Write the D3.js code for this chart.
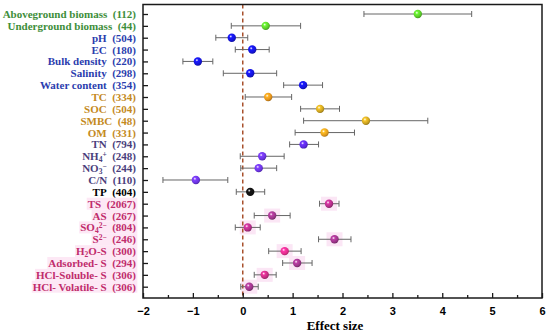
<!DOCTYPE html>
<meta charset="utf-8">
<head>
<title>Effect size forest plot</title>
<script src="https://cdnjs.cloudflare.com/ajax/libs/d3/7.8.5/d3.min.js" charset="utf-8"></script>
<style type="text/css">
body {margin: 0; background: #fff;}
.lab {font-family: "Liberation Serif", "Times New Roman", serif; font-weight: bold; font-size: 11px;}
.tick text {font-family: "Liberation Sans", Arial, sans-serif; font-weight: bold; font-size: 11px;}
</style>
</head>
<body>
<script>
// Data: labels, sample sizes, effect size with 95% CI
var names  = ["Aboveground biomass", "Underground biomass", "pH", "EC", "Bulk density", "Salinity", "Water content",
              "TC", "SOC", "SMBC", "OM", "TN", "NH4+", "NO3-", "C/N", "TP",
              "TS", "AS", "SO42-", "S2-", "H2O-S", "Adsorbed- S", "HCl-Soluble- S", "HCl- Volatile- S"];
var counts = [112, 44, 504, 180, 220, 298, 354, 334, 504, 48, 331, 794, 248, 244, 110, 404,
              2067, 267, 804, 246, 300, 294, 306, 306];
var groups = ["plant", "plant", "phys", "phys", "phys", "phys", "phys",
              "carb", "carb", "carb", "carb", "nitr", "nitr", "nitr", "nitr", "phos",
              "sulf", "sulf", "sulf", "sulf", "sulf", "sulf", "sulf", "sulf"];
var mean   = [3.51, 0.46, -0.22, 0.19, -0.90, 0.15, 1.21, 0.51, 1.55, 2.47, 1.64, 1.22, 0.39, 0.32, -0.94, 0.15,
              1.73, 0.59, 0.10, 1.84, 0.84, 1.09, 0.44, 0.13];
var lower  = [2.43, -0.23, -0.54, -0.15, -1.20, -0.39, 0.82, 0.05, 1.16, 1.22, 1.05, 0.94, -0.05, -0.04, -1.60, -0.13,
              1.54, 0.23, -0.15, 1.52, 0.52, 0.80, 0.23, -0.04];
var upper  = [4.59, 1.16, 0.10, 0.53, -0.60, 0.68, 1.60, 0.98, 1.94, 3.71, 2.24, 1.52, 0.83, 0.68, -0.30, 0.44,
              1.93, 0.95, 0.35, 2.17, 1.17, 1.39, 0.67, 0.31];
var dotColors = ["#58c828", "#58c828", "#1414d8", "#1414d8", "#1414d8", "#1414d8", "#1414d8",
                 "#e0901c", "#c8a020", "#c8a020", "#e09a1c", "#5a28e0", "#6a34e0", "#6a34e0", "#6a34e0", "#111111",
                 "#b02c86", "#9a3488", "#b02c86", "#9a3488", "#e02c8a", "#9a3488", "#c02c80", "#9a3488"];
var xTicks = [-2, -1, 0, 1, 2, 3, 4, 5, 6];

var labelColor = {plant: "#3e8e3a", phys: "#2b3dae", carb: "#c48a1e", nitr: "#4a3e7c", phos: "#000", sulf: "#c02c6c"};

var width = 550, height = 334;
var margin = {top: 4.5, right: 8, bottom: 36, left: 143};

var svg = d3.select("body").append("svg")
  .attr("width", width)
  .attr("height", height);

var x = d3.scaleLinear().domain([-2, 6]).range([margin.left, width - margin.right]);
var y = d3.scalePoint().domain(d3.range(names.length)).range([14, 286.7]);

// gradients for the spheres
var defs = svg.append("defs");
dotColors.forEach(function(c, i) {
  var g = defs.append("radialGradient").attr("id", "g" + i)
    .attr("cx", "0.38").attr("cy", "0.35").attr("r", "0.7");
  g.append("stop").attr("offset", "0%").attr("stop-color", "#fff");
  g.append("stop").attr("offset", "25%").attr("stop-color", d3.color(c).brighter(0.6));
  g.append("stop").attr("offset", "70%").attr("stop-color", c);
  g.append("stop").attr("offset", "100%").attr("stop-color", d3.color(c).darker(1));
});

// light halos behind the sulphur dots
svg.append("g").selectAll("rect")
  .data(d3.range(names.length).filter(function(i) { return groups[i] == "sulf"; }))
  .enter().append("rect")
  .attr("x", function(i) { return x(mean[i]) - 8; })
  .attr("y", function(i) { return y(i) - 7; })
  .attr("width", 16).attr("height", 14)
  .style("fill", "#fbe6f5");

// zero line
svg.append("line")
  .attr("x1", x(0)).attr("x2", x(0))
  .attr("y1", margin.top).attr("y2", height - margin.bottom)
  .style("stroke", "#a8502c").style("stroke-width", 1.5)
  .style("stroke-dasharray", "4,3");

// error bars
var bars = svg.append("g").selectAll("g")
  .data(d3.range(names.length))
  .enter().append("g")
  .style("stroke", "#666").style("stroke-width", 1);
bars.append("line")
  .attr("x1", function(i) { return x(lower[i]); })
  .attr("x2", function(i) { return x(upper[i]); })
  .attr("y1", function(i) { return y(i); })
  .attr("y2", function(i) { return y(i); });
bars.append("line")
  .attr("x1", function(i) { return x(lower[i]); })
  .attr("x2", function(i) { return x(lower[i]); })
  .attr("y1", function(i) { return y(i) - 3; })
  .attr("y2", function(i) { return y(i) + 3; });
bars.append("line")
  .attr("x1", function(i) { return x(upper[i]); })
  .attr("x2", function(i) { return x(upper[i]); })
  .attr("y1", function(i) { return y(i) - 3; })
  .attr("y2", function(i) { return y(i) + 3; });

// points
svg.append("g").selectAll("circle")
  .data(d3.range(names.length))
  .enter().append("circle")
  .attr("cx", function(i) { return x(mean[i]); })
  .attr("cy", function(i) { return y(i); })
  .attr("r", 4.2)
  .style("fill", function(i) { return "url(#g" + i + ")"; });

// frame
svg.append("rect")
  .attr("x", margin.left).attr("y", margin.top)
  .attr("width", width - margin.right - margin.left)
  .attr("height", height - margin.bottom - margin.top)
  .style("fill", "none").style("stroke", "#1a1a1a").style("stroke-width", 1.5);

// bottom axis
var xAxis = svg.append("g")
  .attr("transform", "translate(0," + (height - margin.bottom) + ")")
  .call(d3.axisBottom(x).tickValues(xTicks).tickSize(-5).tickPadding(9)
    .tickFormat(function(d) { return d < 0 ? "\u2212" + (-d) : d; }));
xAxis.select(".domain").remove();
xAxis.selectAll(".tick line").style("stroke", "#1a1a1a").style("stroke-width", 1.3);
xAxis.selectAll(".tick text").style("fill", "#000");

var minor = svg.append("g")
  .attr("transform", "translate(0," + (height - margin.bottom) + ")")
  .call(d3.axisBottom(x).tickValues(d3.range(-1.5, 6, 1)).tickSize(-3).tickFormat(""));
minor.select(".domain").remove();
minor.selectAll(".tick line").style("stroke", "#1a1a1a").style("stroke-width", 1.3);

// left ticks
var yAxis = svg.append("g")
  .attr("transform", "translate(" + margin.left + ",0)")
  .call(d3.axisRight(y).tickSize(5).tickFormat(""));
yAxis.select(".domain").remove();
yAxis.selectAll(".tick line").style("stroke", "#1a1a1a").style("stroke-width", 1.3);

// labels
function writeName(t, n) {
  var parts = {
    "NH4+": [["NH", 0], ["4", 1], ["+", 2]],
    "NO3-": [["NO", 0], ["3", 1], ["\u2212", 2]],
    "SO42-": [["SO", 0], ["4", 1], ["2\u2212", 2]],
    "S2-": [["S", 0], ["2\u2212", 2]],
    "H2O-S": [["H", 0], ["2", 1], ["O-S", 0]]
  }[n] || [[n, 0]];
  parts.forEach(function(p) {
    var s = t.append("tspan").text(p[0]);
    if (p[1] == 1) s.attr("baseline-shift", "-20%").style("font-size", "7.5px");
    if (p[1] == 2) s.attr("baseline-shift", "33%").style("font-size", "7.5px");
  });
}

var labels = svg.append("g").selectAll("g")
  .data(d3.range(names.length))
  .enter().append("g");

labels.each(function(i) {
  var g = d3.select(this);
  var t = g.append("text").attr("class", "lab")
    .attr("x", 136).attr("y", y(i) + 4)
    .attr("text-anchor", "end")
    .style("fill", labelColor[groups[i]]);
  writeName(t, names[i]);
  t.append("tspan").text("\u2002(" + counts[i] + ")");
  if (groups[i] == "sulf") {
    var b = t.node().getBBox();
    g.insert("rect", "text")
      .attr("x", b.x - 1).attr("y", y(i) - 6)
      .attr("width", b.width + 2).attr("height", 12)
      .style("fill", "#fde8f5");
  }
});

// axis title
svg.append("text").attr("class", "lab")
  .attr("x", 335).attr("y", 330)
  .attr("text-anchor", "middle")
  .style("font-size", "13px")
  .text("Effect size");
</script>
</body>
